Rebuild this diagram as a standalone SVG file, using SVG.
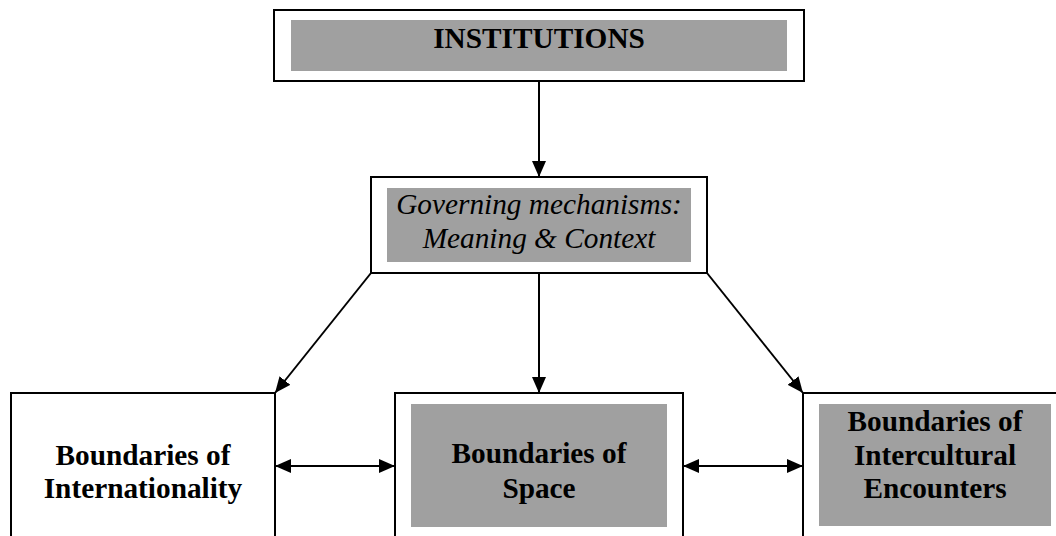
<svg xmlns="http://www.w3.org/2000/svg" width="1056" height="536" viewBox="0 0 1056 536">
<style>
.outer{fill:#fff;stroke:#000;stroke-width:2}
.gray{fill:#a0a0a0}
text{font-family:'Liberation Serif','Times New Roman',Tinos,Times,'Nimbus Roman',serif;font-size:29.3px;fill:#000;text-anchor:middle}
.b{font-weight:bold}
.i{font-style:italic}
.c{stroke:#000;stroke-width:2;fill:none;marker-end:url(#ah)}
.d{marker-start:url(#ah)}
</style>
<defs>
<marker id="ah" markerUnits="userSpaceOnUse" viewBox="0 0 16 14" refX="16" refY="7" markerWidth="16" markerHeight="14" orient="auto-start-reverse">
<path d="M0,0 L16,7 L0,14 Z" fill="#000"/>
</marker>
</defs>
<rect width="1056" height="536" fill="#fff"/>
<g id="institutions">
<rect class="outer" x="274" y="10" width="530" height="71"/>
<rect class="gray" x="291" y="20" width="496" height="51"/>
<text class="b" x="539" y="48" font-family="Liberation Serif">INSTITUTIONS</text>
</g>
<g id="governing">
<rect class="outer" x="371" y="177" width="336" height="96"/>
<rect class="gray" x="387" y="188" width="304" height="74"/>
<text class="i" x="539" y="214" font-family="Liberation Serif">Governing mechanisms:</text>
<text class="i" x="539" y="248" font-family="Liberation Serif">Meaning &amp; Context</text>
</g>
<g id="internationality">
<rect class="outer" x="11" y="393" width="264" height="160"/>
<text class="b" x="143" y="465" font-family="Liberation Serif">Boundaries of</text>
<text class="b" x="143" y="498" font-family="Liberation Serif">Internationality</text>
</g>
<g id="space">
<rect class="outer" x="395" y="393" width="288" height="160"/>
<rect class="gray" x="411" y="404" width="256" height="123"/>
<text class="b" x="539" y="463" font-family="Liberation Serif">Boundaries of</text>
<text class="b" x="539" y="498" font-family="Liberation Serif">Space</text>
</g>
<g id="intercultural">
<rect class="outer" x="803" y="393" width="270" height="160"/>
<rect class="gray" x="819" y="404" width="232" height="122"/>
<text class="b" x="935" y="431" font-family="Liberation Serif">Boundaries of</text>
<text class="b" x="935" y="465" font-family="Liberation Serif">Intercultural</text>
<text class="b" x="935" y="498" font-family="Liberation Serif">Encounters</text>
</g>
<g id="connectors">
<line class="c" x1="539" y1="81" x2="539" y2="177"/>
<line class="c" x1="539" y1="273" x2="539" y2="393"/>
<line class="c" x1="371" y1="273" x2="275" y2="393"/>
<line class="c" x1="707" y1="273" x2="803" y2="393"/>
<line class="c d" x1="275" y1="466" x2="395" y2="466"/>
<line class="c d" x1="683" y1="466" x2="803" y2="466"/>
</g>
</svg>
